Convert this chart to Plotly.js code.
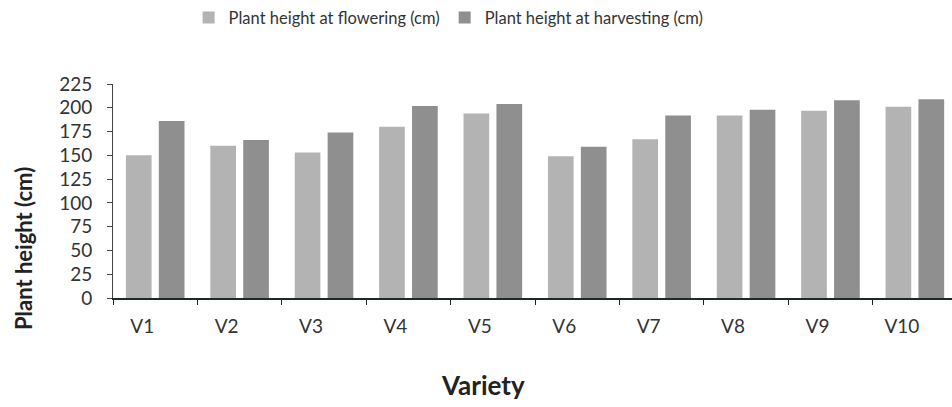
<!DOCTYPE html>
<html>
<head>
<meta charset="utf-8">
<script src="https://cdn.plot.ly/plotly-3.0.1.min.js"></script>
<style>html,body{margin:0;padding:0;background:#fff;}#chart{width:952px;height:407px;}</style>
</head>
<body>
<div id="chart"></div>
<script>
const varieties = ["V1","V2","V3","V4","V5","V6","V7","V8","V9","V10"];
const flowering = [150,160,153,180,194,149,167,192,197,201];
const harvesting = [186,166,174,202,204,159,192,198,208,209];
const yTicks = [0,25,50,75,100,125,150,175,200,225];

const font = "Lato, 'Open Sans', sans-serif";
const traces = [
  {type:"bar", name:"Plant height at flowering (cm)", x:varieties, y:flowering,
   marker:{color:"#b3b3b3"}},
  {type:"bar", name:"Plant height at harvesting (cm)", x:varieties, y:harvesting,
   marker:{color:"#8f8f8f"}}
];
const layout = {
  width:952, height:407,
  margin:{l:113, r:0, t:84, b:109},
  paper_bgcolor:"#fff", plot_bgcolor:"#fff",
  barmode:"group", bargap:0.22, bargroupgap:0.22,
  font:{family:font, size:16.5, color:"#333"},
  showlegend:true,
  legend:{orientation:"h", x:0.4, xanchor:"center", y:1.31, yanchor:"middle",
          font:{family:font, size:16.5, color:"#333"}, itemwidth:30, tracegroupgap:0},
  xaxis:{type:"category", range:[-0.5,9.44], showline:true, linecolor:"#1d2b28", linewidth:2,
         ticks:"outside", tickson:"boundaries", ticklen:5, tickcolor:"#222", tickwidth:1,
         showgrid:false, zeroline:false, ticklabelshift:-13, ticklabelstandoff:10,
         tickfont:{family:font, size:19, color:"#333"}},
  yaxis:{range:[0,225], tickvals:yTicks, showline:true, linecolor:"#444", linewidth:1,
         ticks:"outside", ticklen:5, tickcolor:"#444", showgrid:false, zeroline:false,
         ticklabelstandoff:11,
         tickfont:{family:font, size:19, color:"#333"}},
  annotations:[
    {text:"<b>Variety</b>", xref:"paper", yref:"paper", x:0.441, y:-0.407,
     xanchor:"center", yanchor:"middle", showarrow:false,
     font:{family:font, size:26, color:"#222"}},
    {text:"<b>Plant height (cm)</b>", xref:"paper", yref:"paper", x:-0.106, y:0.229,
     xanchor:"center", yanchor:"middle", textangle:-90, showarrow:false,
     font:{family:font, size:22, color:"#222"}}
  ]
};
Plotly.newPlot("chart", traces, layout, {displayModeBar:false, staticPlot:true});
</script>
</body>
</html>
